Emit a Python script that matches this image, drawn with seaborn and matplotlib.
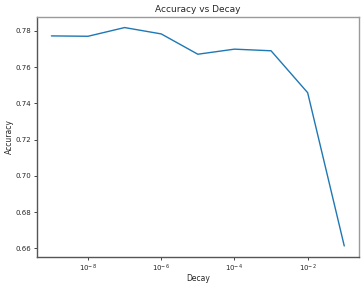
import matplotlib
matplotlib.use("Agg")
import matplotlib.pyplot as plt
import seaborn as sns
import pandas as pd

decay = [1e-9, 1e-8, 1e-7, 1e-6, 1e-5, 1e-4, 1e-3, 1e-2, 1e-1]
accuracy = [0.7772, 0.7770, 0.7818, 0.7783, 0.7671, 0.7699, 0.7690, 0.7459, 0.6614]

df = pd.DataFrame({"Decay": decay, "Accuracy": accuracy})

sns.set_style("ticks")
plt.rcParams['font.family'] = ['DejaVu Sans']

fig = plt.figure(figsize=(3.64, 2.87), dpi=100)
ax = fig.add_axes([0.101, 0.105, 0.885, 0.837])
sns.lineplot(data=df, x="Decay", y="Accuracy", ax=ax, color="#1f77b4", linewidth=1.0)
ax.set_xscale("log")
ax.set_yticks([0.66, 0.68, 0.70, 0.72, 0.74, 0.76, 0.78])
ax.set_xticks([1e-8, 1e-6, 1e-4, 1e-2])
ax.tick_params(labelsize=5, length=2, width=0.6, pad=2)
ax.tick_params(which="minor", length=0)
ax.set_xlabel("Decay", fontsize=5.5, labelpad=0.5)
ax.set_ylabel("Accuracy", fontsize=5.5, labelpad=1)
ax.set_title("Accuracy vs Decay", fontsize=6.5, pad=3)
for s in ax.spines.values():
    s.set_color("#9a9a9a")
    s.set_linewidth(1.0)
ax.spines["left"].set_color("#555555")
ax.spines["bottom"].set_color("#555555")
fig.savefig("out.png", dpi=100)
